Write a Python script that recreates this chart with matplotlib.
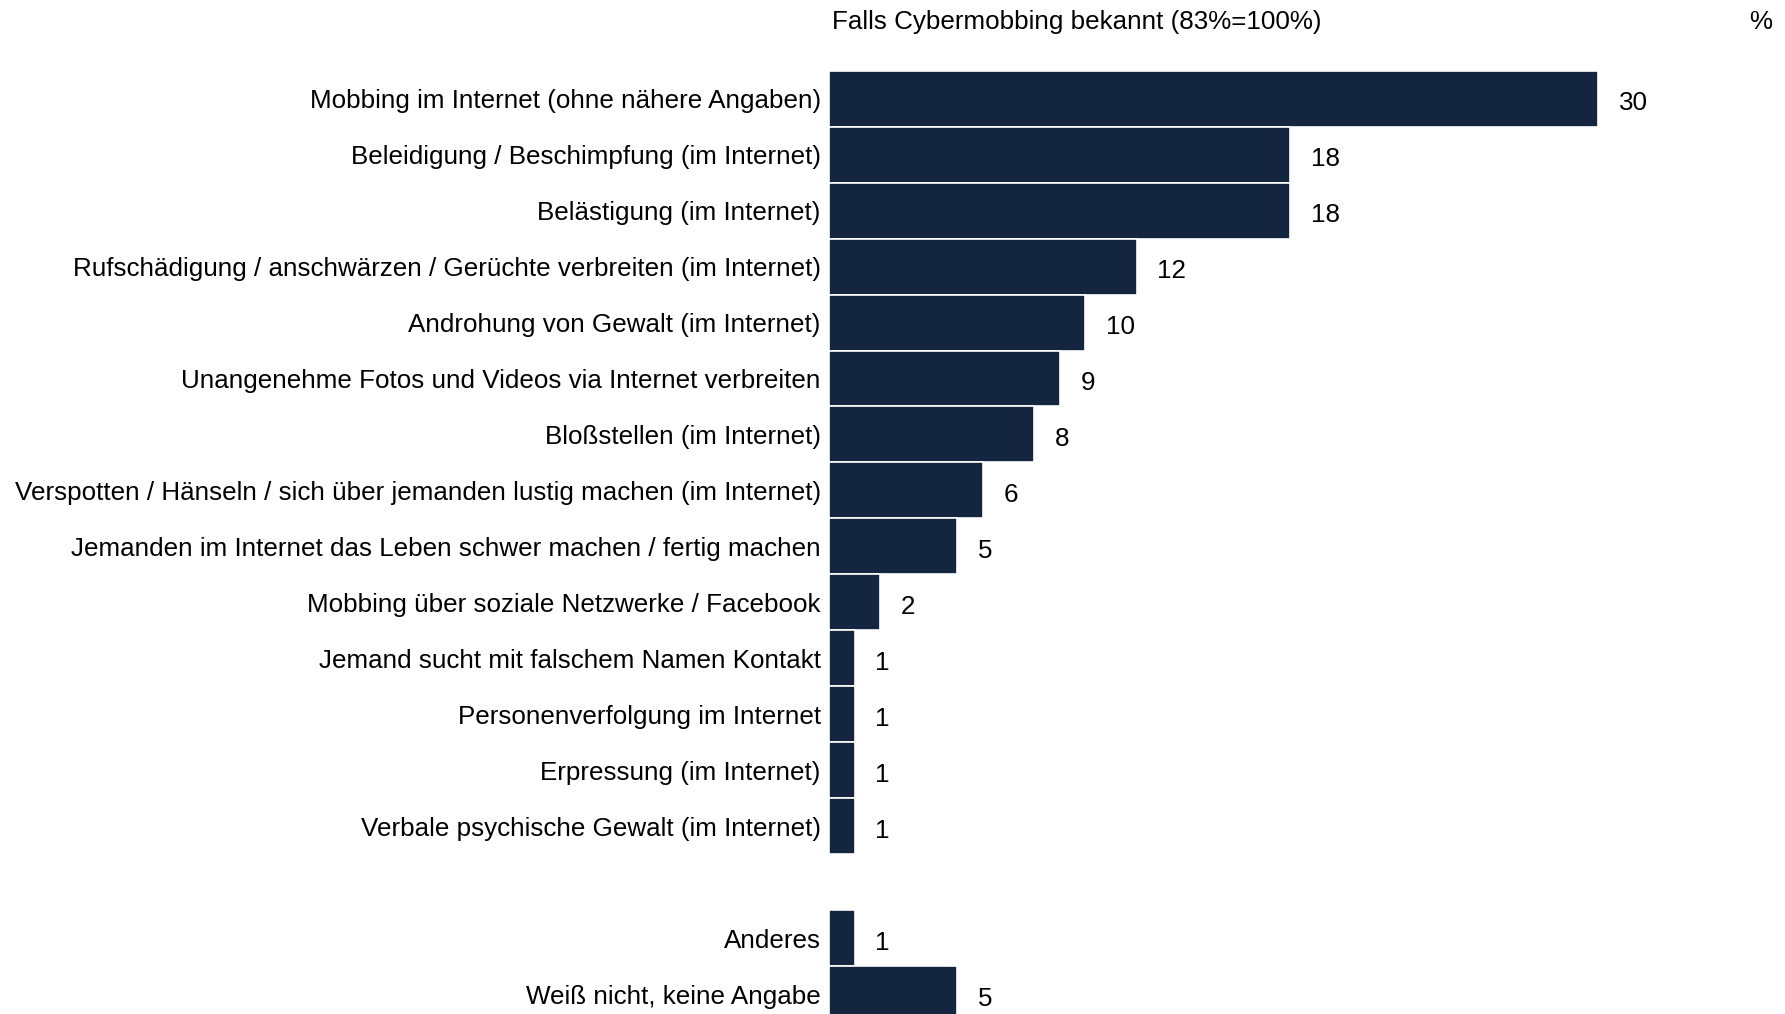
import matplotlib
matplotlib.use('Agg')
import matplotlib.pyplot as plt

plt.rcParams['font.family'] = ['Liberation Sans', 'DejaVu Sans']

# Kategorien und Werte (in %)
categories = [
    'Mobbing im Internet (ohne nähere Angaben)',
    'Beleidigung / Beschimpfung (im Internet)',
    'Belästigung (im Internet)',
    'Rufschädigung / anschwärzen / Gerüchte verbreiten (im Internet)',
    'Androhung von Gewalt (im Internet)',
    'Unangenehme Fotos und Videos via Internet verbreiten',
    'Bloßstellen (im Internet)',
    'Verspotten / Hänseln / sich über jemanden lustig machen (im Internet)',
    'Jemanden im Internet das Leben schwer machen / fertig machen',
    'Mobbing über soziale Netzwerke / Facebook',
    'Jemand sucht mit falschem Namen Kontakt',
    'Personenverfolgung im Internet',
    'Erpressung (im Internet)',
    'Verbale psychische Gewalt (im Internet)',
]
values = [30, 18, 18, 12, 10, 9, 8, 6, 5, 2, 1, 1, 1, 1]

extra_categories = ['Anderes', 'Weiß nicht, keine Angabe']
extra_values = [1, 5]

title = 'Falls Cybermobbing bekannt (83%=100%)'
bar_color = '#14263f'
fs = 18.7

labels = categories + extra_categories
vals = values + extra_values
# eine Leerzeile zwischen den beiden Blöcken
pos = list(range(len(categories))) + [len(categories) + 1 + i for i in range(len(extra_categories))]

fig = plt.figure(figsize=(17.85, 10.14), dpi=100)
ax = fig.add_axes([829 / 1785, 0, 1 - 829 / 1785, 1])

ax.barh(pos, vals, height=1.0, color=bar_color, edgecolor='white', linewidth=1.2)

for p, v in zip(pos, vals):
    ax.annotate(str(v), (v, p), xytext=(15, -3), textcoords='offset points',
                ha='left', va='center', fontsize=fs, color='black')

ax.set_yticks(pos)
ax.set_yticklabels(labels, fontsize=fs)
ax.tick_params(axis='y', length=0, pad=6)
ax.set_xticks([])
ax.set_xlim(0, 37.3)
ax.set_ylim(16.35, -1.76)
for s in ax.spines.values():
    s.set_visible(False)

fig.text(832 / 1785, 1 - 22 / 1014, title, fontsize=fs, ha='left', va='center')
fig.text(1772 / 1785, 1 - 22 / 1014, '%', fontsize=fs, ha='right', va='center')

fig.savefig('out.png', dpi=100)
